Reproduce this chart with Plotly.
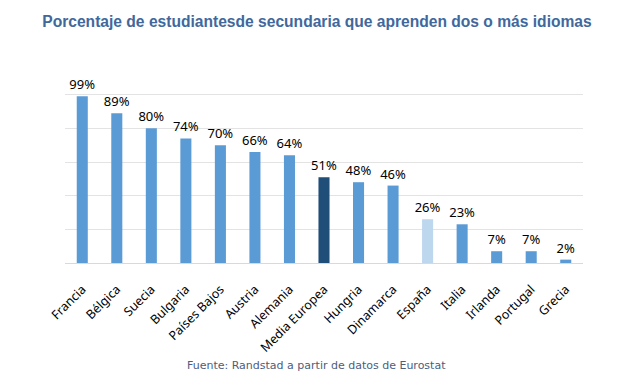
import plotly.graph_objects as go

countries = ["Francia", "Bélgica", "Suecia", "Bulgaria", "Países Bajos", "Austria",
             "Alemania", "Media Europea", "Hungria", "Dinamarca", "España", "Italia",
             "Irlanda", "Portugal", "Grecia"]
values = [99, 89, 80, 74, 70, 66, 64, 51, 48, 46, 26, 23, 7, 7, 2]
colors = ["#5B9BD5"] * 7 + ["#1F4E79"] + ["#5B9BD5"] * 2 + ["#BDD7EE"] + ["#5B9BD5"] * 4

fig = go.Figure(go.Bar(
    x=countries, y=values,
    marker=dict(color=colors, line=dict(width=0)),
    text=[f"{v}%" for v in values],
    textposition="outside",
    constraintext="none",
    textfont=dict(family="Noto Sans", size=13, color="#000000"),
    cliponaxis=False,
    width=0.32,
))

fig.update_layout(
    width=640, height=384,
    margin=dict(l=57, r=65, t=53, b=129),
    paper_bgcolor="white", plot_bgcolor="white",
    showlegend=False,
    uniformtext=dict(mode=False),
    title=dict(text="<b>Porcentaje de estudiantesde secundaria que aprenden dos o más idiomas</b>",
               x=309 / 640, xanchor="center", y=1 - 14 / 384, yanchor="middle",
               font=dict(family="Liberation Sans", size=15.6, color="#41689C")),
    xaxis=dict(tickangle=-45, tickfont=dict(family="Noto Sans", size=12.5, color="#000000"),
               showgrid=False, showline=True, linecolor="#D9D9D9", ticks="",
               ticklabelstandoff=13, automargin=False),
    yaxis=dict(range=[0, 120], dtick=20, showgrid=True, gridcolor="#E3E3E3",
               showticklabels=False, zeroline=False, ticks="", automargin=False),
    annotations=[dict(text="Fuente: Randstad a partir de datos de Eurostat",
                      xref="paper", yref="paper", x=(308 - 57) / 518, y=-(357 - 255) / 202,
                      xanchor="center", yanchor="middle", showarrow=False,
                      font=dict(family="DejaVu Sans", size=11, color="#4A5E80"))],
)

fig.write_html("out.html")
